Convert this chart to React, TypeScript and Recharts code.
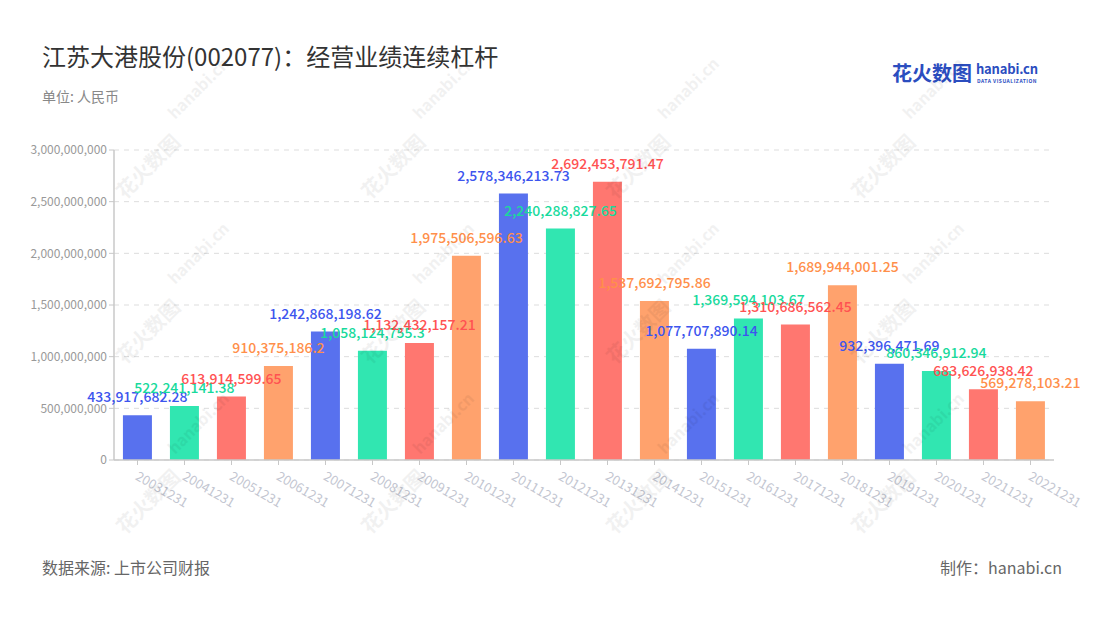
import React from "react";
import { BarChart, Bar, XAxis, YAxis, CartesianGrid, Cell, LabelList } from "recharts";

const categories = [
  "20031231", "20041231", "20051231", "20061231", "20071231",
  "20081231", "20091231", "20101231", "20111231", "20121231",
  "20131231", "20141231", "20151231", "20161231", "20171231",
  "20181231", "20191231", "20201231", "20211231", "20221231",
];

const values = [
  433917682.28, 522241141.38, 613914599.65, 910375186.2, 1242868198.62,
  1058124755.3, 1132432157.21, 1975506596.63, 2578346213.73, 2240288827.65,
  2692453791.47, 1537692795.86, 1077707890.14, 1369594103.67, 1310686562.45,
  1689944001.25, 932396471.69, 860346912.94, 683626938.42, 569278103.21,
];

const valueLabels = [
  "433,917,682.28", "522,241,141.38", "613,914,599.65", "910,375,186.2", "1,242,868,198.62",
  "1,058,124,755.3", "1,132,432,157.21", "1,975,506,596.63", "2,578,346,213.73", "2,240,288,827.65",
  "2,692,453,791.47", "1,537,692,795.86", "1,077,707,890.14", "1,369,594,103.67", "1,310,686,562.45",
  "1,689,944,001.25", "932,396,471.69", "860,346,912.94", "683,626,938.42", "569,278,103.21",
];

const yTicks = [0, 500000000, 1000000000, 1500000000, 2000000000, 2500000000, 3000000000];

const barColors = ["#5871EE", "#31E6B1", "#FF7770", "#FFA26D"];
const labelColors = ["#3D55EE", "#18DA9C", "#FF5252", "#FF8F4A"];

const data = categories.map((c, i) => ({ name: c, value: values[i], label: valueLabels[i] }));

const FONT = "'Noto Sans CJK SC', 'Noto Sans', sans-serif";

const fmt = (v: number) => v.toLocaleString("en-US");

const XTick = (props: any) => {
  const { x, y, payload } = props;
  return (
    <g transform={`translate(${x - 3},${y + 12}) rotate(30)`}>
      <text x={0} y={0} textAnchor="start" fill="#C3C6D1" fontSize={13} fontFamily={FONT}>
        {payload.value}
      </text>
    </g>
  );
};

const ValueLabel = (props: any) => {
  const { x, y, width, index } = props;
  return (
    <text
      x={x + width / 2}
      y={y - 13}
      textAnchor="middle"
      fill={labelColors[index % 4]}
      fontSize={14}
      fontWeight={500}
      fontFamily={FONT}
    >
      {valueLabels[index]}
    </text>
  );
};

const wmCols = [150, 395, 640, 885];
const wmRows = [175, 340, 510];

const Watermarks = () => {
  const items: React.ReactNode[] = [];
  wmRows.forEach((y, r) => {
    wmCols.forEach((x, c) => {
      items.push(
        <g key={`w${r}-${c}`} transform={`translate(${x - 25},${y + 25}) rotate(-45)`} opacity={0.05}>
          <text x={0} y={0} fontSize={20} fontWeight={700} fill="#000" fontFamily={FONT}>花火数图</text>
        </g>
      );
      items.push(
        <g key={`h${r}-${c}`} transform={`translate(${x + 25},${y - 55}) rotate(-45)`} opacity={0.05}>
          <text x={0} y={0} fontSize={16} fontWeight={700} fill="#000" fontFamily={FONT}>hanabi.cn</text>
        </g>
      );
    });
  });
  return (
    <svg width={1100} height={620} style={{ position: "absolute", left: 0, top: 0, pointerEvents: "none" }}>
      {items}
    </svg>
  );
};

export default function App() {
  return (
    <div style={{ position: "absolute", left: 0, top: 0, width: 1100, height: 620, background: "#fff", fontFamily: FONT, overflow: "hidden" }}>
      <div style={{ position: "absolute", left: 42, top: 38, fontSize: 24, color: "#333", whiteSpace: "nowrap" }}>
        江苏大港股份(002077)：经营业绩连续杠杆
      </div>
      <div style={{ position: "absolute", left: 42, top: 86, fontSize: 14, color: "#888" }}>单位: 人民币</div>
      <div style={{ position: "absolute", left: 892, top: 58, fontSize: 20, fontWeight: 700, color: "#2B4DBF", whiteSpace: "nowrap" }}>
        花火数图
      </div>
      <div style={{ position: "absolute", left: 976, top: 61, fontSize: 13, fontWeight: 700, color: "#2B4DBF", lineHeight: "16px", letterSpacing: -0.2 }}>
        hanabi.cn
      </div>
      <div style={{ position: "absolute", left: 977, top: 77, fontSize: 5, fontWeight: 700, color: "#2B4DBF", letterSpacing: 0.5 }}>
        DATA VISUALIZATION
      </div>
      <div style={{ position: "absolute", left: 0, top: 0 }}>
        <BarChart width={1100} height={620} data={data} margin={{ top: 150, right: 46, bottom: 100, left: 14 }} barCategoryGap="19%">
          <CartesianGrid vertical={false} stroke="#DDDDDD" strokeDasharray="5 5" />
          <XAxis
            dataKey="name"
            interval={0}
            height={60}
            tick={<XTick />}
            axisLine={{ stroke: "#C8C8C8", strokeWidth: 1.5 }}
            tickLine={{ stroke: "#C8C8C8" }}
            tickSize={5}
          />
          <YAxis
            width={100}
            domain={[0, 3000000000]}
            ticks={yTicks}
            tickFormatter={fmt}
            tick={{ fill: "#999", fontSize: 12, fontFamily: FONT }}
            axisLine={{ stroke: "#C8C8C8", strokeWidth: 1.5 }}
            tickLine={{ stroke: "#C8C8C8" }}
            tickSize={5}
            interval={0}
          />
          <Bar dataKey="value" isAnimationActive={false}>
            {data.map((d, i) => (
              <Cell key={d.name} fill={barColors[i % 4]} />
            ))}
            <LabelList dataKey="label" content={<ValueLabel />} />
          </Bar>
        </BarChart>
      </div>
      <Watermarks />
      <div style={{ position: "absolute", left: 42, top: 555, fontSize: 16, color: "#666" }}>数据来源: 上市公司财报</div>
      <div style={{ position: "absolute", right: 38, top: 555, fontSize: 16, color: "#666" }}>制作：hanabi.cn</div>
    </div>
  );
}
